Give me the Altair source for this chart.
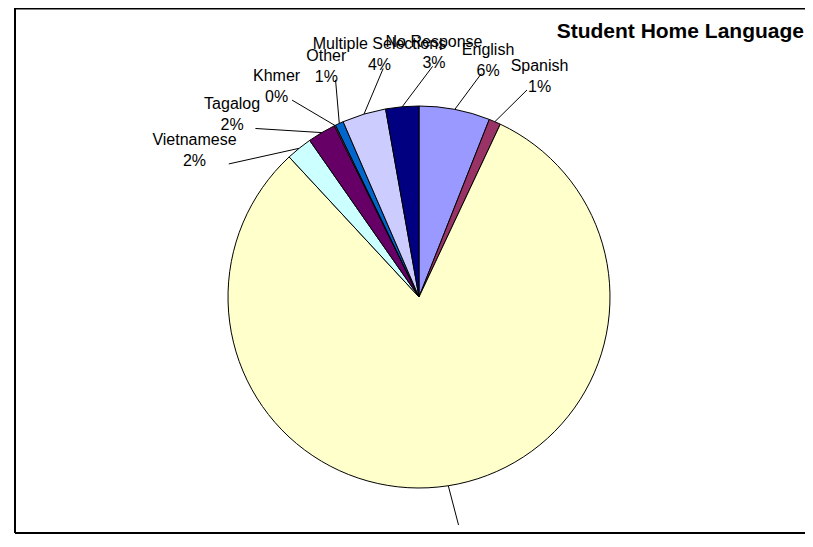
import altair as alt
import pandas as pd
import numpy as np

languages = ["English", "Spanish", "Chinese", "Vietnamese", "Tagalog", "Khmer",
             "Other", "Multiple Selections", "No Response"]
percent = [6.0, 1.0, 81.1, 2.2, 2.4, 0.1, 0.7, 3.7, 2.8]
colors = ["#9999FF", "#993366", "#FFFFCC", "#CCFFFF", "#660066", "#FF8080",
          "#0066CC", "#CCCCFF", "#000080"]
title_text = "Student Home Language"

# layout (pixels inside the svg, whose corner sits at page (8, 8))
W, H = 797, 526
CX, CY, R = 411, 289, 191
RX_LABEL, RY_LABEL = 285, 255
MIN_GAP = 11.0  # degrees between neighbouring label angles
FONT = "Liberation Sans, Arial, Helvetica, sans-serif"
FS, LH = 16, 21

df = pd.DataFrame({"lang": languages, "pct": percent, "idx": range(len(languages))})
total = df["pct"].sum()
end = df["pct"].cumsum() / total * 360.0
start = end - df["pct"] / total * 360.0
mid = ((start + end) / 2).to_numpy()

# spread label angles so neighbours keep a minimum gap (simple relaxation)
ang = np.where(mid < 90, mid + 360, mid).astype(float)
order = np.argsort(ang)
for _ in range(500):
    for a, b in zip(order[:-1], order[1:]):
        gap = ang[b] - ang[a]
        if gap < MIN_GAP:
            d = (MIN_GAP - gap) / 2
            ang[a] -= d
            ang[b] += d
lab = np.radians(ang)
m = np.radians(mid)

df["x0"] = CX + R * np.sin(m)
df["y0"] = CY - R * np.cos(m)
df["lx"] = CX + RX_LABEL * np.sin(lab)
df["ly"] = CY - RY_LABEL * np.cos(lab)

# leader ends at the edge of the label box, on the side facing the pie centre
half_w = df["lang"].str.len() * 0.55 * FS / 2 + 3
half_h = LH + 3
ux = CX - df["lx"]
uy = CY - df["ly"]
nrm = np.hypot(ux, uy)
ux, uy = ux / nrm, uy / nrm
t = np.minimum(half_w / np.abs(ux).clip(lower=1e-6), half_h / np.abs(uy).clip(lower=1e-6))
df["x1"] = df["lx"] + ux * t
df["y1"] = df["ly"] + uy * t
df["label"] = [f"{l}\n{round(p / total * 100):.0f}%" for l, p in zip(df["lang"], df["pct"])]

pie = alt.Chart(df).mark_arc(stroke="black", strokeWidth=1, outerRadius=R).encode(
    theta=alt.Theta("pct:Q", stack=True),
    order=alt.Order("idx:Q"),
    color=alt.Color("lang:N", scale=alt.Scale(domain=languages, range=colors), legend=None),
    x=alt.value(CX),
    y=alt.value(CY),
)

leaders = alt.Chart(df).mark_rule(color="black", strokeWidth=1).encode(
    x=alt.X("x0:Q", scale=None, axis=None),
    y=alt.Y("y0:Q", scale=None, axis=None),
    x2="x1:Q",
    y2="y1:Q",
)

labels = alt.Chart(df).mark_text(
    font=FONT, fontSize=FS, color="black", lineBreak="\n", lineHeight=LH,
    align="center", baseline="middle",
).encode(
    x=alt.X("lx:Q", scale=None, axis=None),
    y=alt.Y("ly:Q", scale=None, axis=None),
    text="label:N",
)

frame_df = pd.DataFrame({"a": [0]})
left_border = alt.Chart(frame_df).mark_rule(color="black", strokeWidth=2).encode(
    x=alt.value(7), y=alt.value(0), y2=alt.value(H - 1))
top_border = alt.Chart(frame_df).mark_rule(color="black", strokeWidth=2).encode(
    x=alt.value(7), x2=alt.value(W + 5), y=alt.value(0.5))
bottom_border = alt.Chart(frame_df).mark_rule(color="black", strokeWidth=2).encode(
    x=alt.value(7), x2=alt.value(W + 5), y=alt.value(H - 1))

title = alt.Chart(pd.DataFrame({"t": [title_text]})).mark_text(
    font=FONT, fontSize=21, fontWeight="bold", color="black", align="right",
    baseline="alphabetic",
).encode(x=alt.value(W - 1), y=alt.value(30), text="t:N")

chart = alt.layer(pie, leaders, labels, left_border, top_border, bottom_border, title).properties(
    width=W, height=H, padding=0, autosize=alt.AutoSizeParams(type="none"),
).configure_view(stroke=None)

chart.save("out.html", embed_options={"renderer": "svg", "actions": False})
